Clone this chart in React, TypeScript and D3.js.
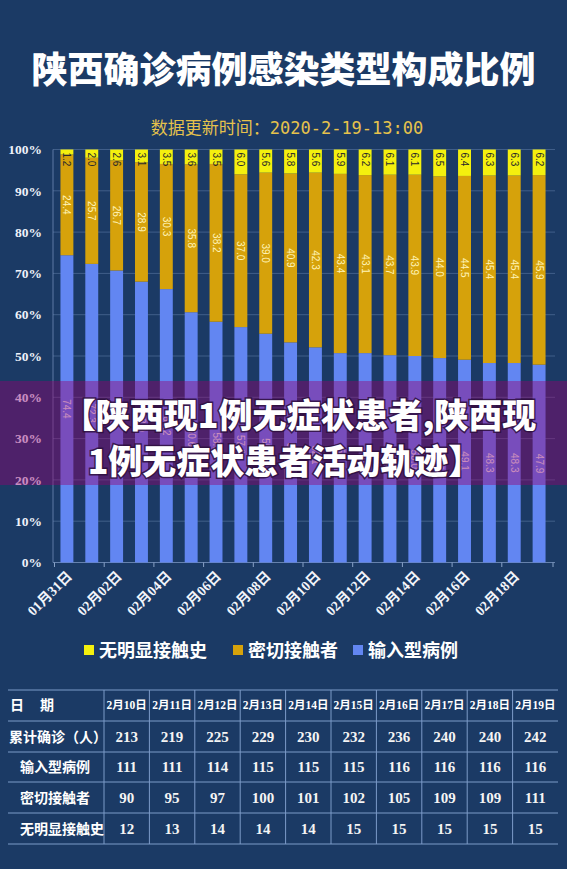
import React from 'react';
import * as d3 from 'd3';

// 每日构成比例（%）
const days = [
  '01月31日', '02月01日', '02月02日', '02月03日', '02月04日', '02月05日', '02月06日',
  '02月07日', '02月08日', '02月09日', '02月10日', '02月11日', '02月12日', '02月13日',
  '02月14日', '02月15日', '02月16日', '02月17日', '02月18日', '02月19日',
];
const importedShare = [74.4, 72.3, 70.7, 68.0, 66.2, 60.6, 58.3, 57.0, 55.4, 53.3, 52.1, 50.7, 50.7, 50.2, 50.0, 49.5, 49.1, 48.3, 48.3, 47.9];
const contactShare = [24.4, 25.7, 26.7, 28.9, 30.3, 35.8, 38.2, 37.0, 39.0, 40.9, 42.3, 43.4, 43.1, 43.7, 43.9, 44.0, 44.5, 45.4, 45.4, 45.9];
const unknownShare = [1.2, 2.0, 2.6, 3.1, 3.5, 3.6, 3.5, 6.0, 5.6, 5.8, 5.6, 5.9, 6.2, 6.1, 6.1, 6.5, 6.4, 6.3, 6.3, 6.2];

const yTicks = [0, 10, 20, 30, 40, 50, 60, 70, 80, 90, 100];

// 表格
const tableDates = ['2月10日', '2月11日', '2月12日', '2月13日', '2月14日', '2月15日', '2月16日', '2月17日', '2月18日', '2月19日'];
const totalCases = [213, 219, 225, 229, 230, 232, 236, 240, 240, 242];
const importedCases = [111, 111, 114, 115, 115, 115, 116, 116, 116, 116];
const contactCases = [90, 95, 97, 100, 101, 102, 105, 109, 109, 111];
const unknownCases = [12, 13, 14, 14, 14, 15, 15, 15, 15, 15];

const W = 567;
const H = 869;
const BG = '#1b3a65';
const C_IMPORT = '#6286f2';
const C_CONTACT = '#d6a20b';
const C_UNKNOWN = '#f4f00e';
const CJK = '"Noto Sans CJK SC", sans-serif';
const SERIF = '"Liberation Serif", "Noto Sans CJK SC", serif';

const seriesKeys = ['imported', 'contact', 'unknown'] as const;
const rows = days.map((d, i) => ({
  day: d,
  imported: importedShare[i],
  contact: contactShare[i],
  unknown: unknownShare[i],
}));

export default function App() {
  const x = d3.scaleBand<string>().domain(days).range([53, 553]).paddingInner(0.48).paddingOuter(0.3);
  const y = d3.scaleLinear().domain([0, 100]).range([562.5, 149.5]);
  const stacked = d3.stack<any>().keys(seriesKeys as any)(rows);
  const colors: Record<string, string> = { imported: C_IMPORT, contact: C_CONTACT, unknown: C_UNKNOWN };

  const gap = (x.step() - x.bandwidth()) / 2;
  const xTicks = days.filter((_, i) => i % 2 === 0).map(d => (x(d) as number) - gap);
  xTicks.push(553);

  const tx = d3.scaleBand<string>().domain(tableDates).range([104, 558]);
  const rowLines = [690, 721, 752, 782, 813, 844];
  const tableRows = [
    { label: '累计确诊（人）', indent: 9, values: totalCases },
    { label: '输入型病例', indent: 20, values: importedCases },
    { label: '密切接触者', indent: 20, values: contactCases },
    { label: '无明显接触史', indent: 20, values: unknownCases },
  ];

  const legend = [
    { label: '无明显接触史', color: C_UNKNOWN, x: 84 },
    { label: '密切接触者', color: C_CONTACT, x: 233 },
    { label: '输入型病例', color: C_IMPORT, x: 353 },
  ];

  return (
    <svg width={W} height={H} style={{ position: 'absolute', left: 0, top: 0, background: BG }}>
      <rect width={W} height={H} fill={BG} />

      <text x={W / 2} y={83} textAnchor="middle" fill="#fff" fontFamily={CJK} fontWeight={900} fontSize={36}>
        陕西确诊病例感染类型构成比例
      </text>
      <text x={287} y={134} textAnchor="middle" fill="#e6c24c" fontFamily={'"DejaVu Sans Mono", "Noto Sans CJK SC", monospace'} fontSize={17}>
        数据更新时间：2020-2-19-13:00
      </text>

      {/* 网格与坐标轴 */}
      {yTicks.map(t => (
        <g key={t}>
          <line x1={53} x2={555} y1={y(t)} y2={y(t)} stroke="#6f8bb5" strokeOpacity={t === 0 ? 0.9 : 0.45} />
          <text x={42} y={y(t)} dy="0.35em" textAnchor="end" fill="#eef2fa" fontFamily={SERIF} fontWeight="bold" fontSize={13.5}>
            {t}%
          </text>
        </g>
      ))}
      <line x1={53} x2={53} y1={149.5} y2={562.5} stroke="#6f8bb5" strokeOpacity={0.8} />
      {xTicks.map((t, i) => (
        <line key={i} x1={t} x2={t} y1={562.5} y2={567} stroke="#8aa3c8" />
      ))}

      {/* 堆叠柱 */}
      {stacked.map(s => (
        <g key={s.key} fill={colors[s.key]}>
          {s.map((d, i) => (
            <rect key={i} x={x(days[i])} width={x.bandwidth()} y={y(d[1])} height={y(d[0]) - y(d[1])} />
          ))}
        </g>
      ))}

      {/* 数值标签 */}
      {stacked.map(s => (
        <g key={s.key + '-lbl'} fontFamily='"Liberation Sans", Arial, sans-serif' fontSize={10}>
          {s.map((d, i) => {
            const cx = (x(days[i]) as number) + x.bandwidth() / 2;
            const v = (d.data as any)[s.key] as number;
            if (s.key === 'unknown') {
              const top = y(d[1]) + 3;
              return (
                <text key={i} transform={`translate(${cx},${top}) rotate(90)`} dy="0.35em" textAnchor="start" fill="#2a2a2a">
                  {v.toFixed(1)}
                </text>
              );
            }
            const cy = (y(d[0]) + y(d[1])) / 2;
            return (
              <text key={i} transform={`translate(${cx},${cy}) rotate(90)`} dy="0.35em" textAnchor="middle"
                fill={s.key === 'contact' ? '#fff4b8' : '#f2f2f2'}>
                {v.toFixed(1)}
              </text>
            );
          })}
        </g>
      ))}

      {/* X 轴标签 */}
      {days.filter((_, i) => i % 2 === 0).map(d => {
        const cx = (x(d) as number) + x.bandwidth() / 2;
        return (
          <text key={d} transform={`translate(${cx + 6},${577}) rotate(-45)`} textAnchor="end" fill="#f2f4fa"
            fontFamily={SERIF} fontWeight="bold" fontSize={14}>
            {d}
          </text>
        );
      })}

      {/* 图例 */}
      {legend.map(l => (
        <g key={l.label}>
          <rect x={l.x} y={645} width={10} height={10} fill={l.color} />
          <text x={l.x + 15} y={657} fill="#fff" fontFamily={CJK} fontWeight={700} fontSize={18}>{l.label}</text>
        </g>
      ))}

      {/* 横幅 */}
      <rect x={0} y={381} width={W} height={104} fill="rgba(150, 0, 115, 0.42)" />
      <g fontFamily={CJK} fontWeight={900} fontSize={34} fill="#fff" stroke="rgba(45, 15, 60, 0.85)" strokeWidth={3}
        style={{ paintOrder: 'stroke' }} textAnchor="middle">
        <text x={299} y={428}>【陕西现1例无症状患者,陕西现</text>
        <text x={285} y={474}>1例无症状患者活动轨迹】</text>
      </g>

      {/* 数据表 */}
      <g stroke="#7d9bc9" strokeWidth={1}>
        {rowLines.map(r => (
          <line key={r} x1={8} x2={558} y1={r} y2={r} />
        ))}
        {tableDates.map(d => (
          <line key={d} x1={tx(d)} x2={tx(d)} y1={690} y2={844} />
        ))}
      </g>
      <text x={10} y={710} fill="#fff" fontFamily={CJK} fontWeight={700} fontSize={14}>日</text>
      <text x={40} y={710} fill="#fff" fontFamily={CJK} fontWeight={700} fontSize={14}>期</text>
      {tableDates.map(d => (
        <text key={d} x={(tx(d) as number) + tx.bandwidth() / 2} y={709} textAnchor="middle" fill="#fff"
          fontFamily={SERIF} fontWeight="bold" fontSize={11.5}>
          {d}
        </text>
      ))}
      {tableRows.map((r, ri) => {
        const cy = (rowLines[ri + 1] + rowLines[ri + 2]) / 2;
        return (
          <g key={r.label}>
            <text x={r.indent} y={cy + 5} fill="#fff" fontFamily={CJK} fontWeight={700} fontSize={14}>{r.label}</text>
            {r.values.map((v, i) => (
              <text key={i} x={(tx(tableDates[i]) as number) + tx.bandwidth() / 2} y={cy + 5} textAnchor="middle"
                fill="#f4f4f4" fontFamily={SERIF} fontWeight="bold" fontSize={15}>
                {v}
              </text>
            ))}
          </g>
        );
      })}
    </svg>
  );
}
